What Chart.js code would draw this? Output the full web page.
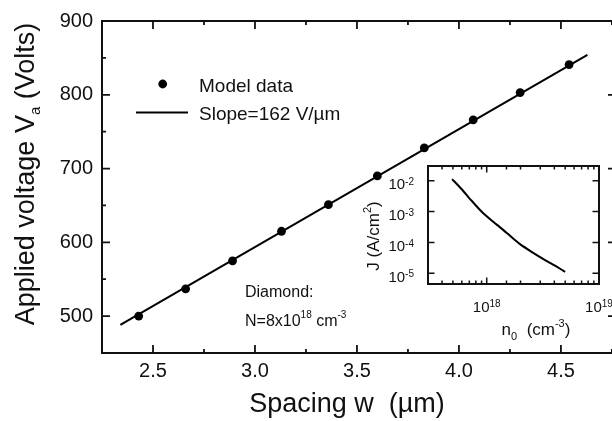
<!DOCTYPE html>
<html>
<head>
<meta charset="utf-8">
<script src="https://cdn.jsdelivr.net/npm/chart.js@4.4.0/dist/chart.umd.min.js"></script>
<style>
  html, body { margin: 0; padding: 0; background: #fff; overflow: hidden; }
  #wrap { position: relative; width: 612px; height: 421px; overflow: hidden; }
  #main { position: absolute; left: 0; top: 0; }
  #inset { position: absolute; left: 340px; top: 150px; }
</style>
</head>
<body>
<div id="wrap">
  <canvas id="main" width="630" height="421"></canvas>
  <canvas id="inset" width="290" height="205"></canvas>
</div>
<script>
// main plot: applied voltage vs spacing
const spacing = [2.43, 2.66, 2.89, 3.13, 3.36, 3.60, 3.83, 4.07, 4.30, 4.54];
const voltage = [500, 537, 575, 615, 651, 690, 728, 766, 803, 841];
const fitSpacing = [2.34, 4.63];
const fitVoltage = [488, 854];

const wTicks = [2.25, 2.5, 2.75, 3.0, 3.25, 3.5, 3.75, 4.0, 4.25, 4.5, 4.75];
const wLabels = [2.5, 3.0, 3.5, 4.0, 4.5];
const vTicks = [450, 500, 550, 600, 650, 700, 750, 800, 850, 900];
const vLabels = [500, 600, 700, 800, 900];

// inset: J vs n0 (log-log)
const density = [4.92e17, 5.96e17, 7.31e17, 8.99e17, 1.10e18, 1.36e18, 1.66e18, 1.98e18, 2.51e18, 3.31e18, 4.06e18, 4.99e18];
const current = [1.13e-2, 5.4e-3, 2.28e-3, 1.0e-3, 5.2e-4, 2.8e-4, 1.5e-4, 8.8e-5, 4.96e-5, 2.68e-5, 1.76e-5, 1.12e-5];

const FONT = "'Liberation Sans', Arial, Helvetica, sans-serif";
const INK = '#111';

// draw text made of pieces; s = 1 superscript, -1 subscript
function rich(ctx, parts, x, y, size, align, opt) {
  opt = opt || {};
  const small = opt.small || Math.round(size * 0.62);
  const raise = opt.raise != null ? opt.raise : size * 0.45;
  const drop = opt.drop != null ? opt.drop : size * 0.22;
  const widths = parts.map(([t, s]) => {
    ctx.font = (s ? small : size) + 'px ' + FONT;
    return ctx.measureText(t).width;
  });
  const total = widths.reduce((a, b) => a + b, 0);
  let cx = align === 'center' ? x - total / 2 : align === 'right' ? x - total : x;
  ctx.textAlign = 'left';
  ctx.textBaseline = 'alphabetic';
  ctx.fillStyle = INK;
  parts.forEach(([t, s], i) => {
    ctx.font = (s ? small : size) + 'px ' + FONT;
    const dy = s > 0 ? -raise : s < 0 ? drop : 0;
    ctx.fillText(t, cx, y + dy);
    cx += widths[i];
  });
}

const isPow10 = v => Math.abs(Math.log10(v) - Math.round(Math.log10(v))) < 1e-6;

// box around plot area with inward ticks on all sides
function makeFrame(cfg) {
  return {
    id: 'frame',
    beforeDraw(chart) {
      if (!cfg.fill) return;
      const a = chart.chartArea;
      chart.ctx.save();
      chart.ctx.fillStyle = '#fff';
      chart.ctx.fillRect(a.left, a.top, a.right - a.left, a.bottom - a.top);
      chart.ctx.restore();
    },
    afterDraw(chart) {
      const { ctx, chartArea: a } = chart;
      const xs = chart.scales.x, ys = chart.scales.y;
      ctx.save();
      ctx.strokeStyle = INK;
      ctx.beginPath();
      xs.ticks.forEach(t => {
        if (t.value < xs.min || t.value > xs.max) return;
        const p = xs.getPixelForValue(t.value);
        const len = cfg.xMajor(t.value) ? cfg.major : cfg.minor;
        ctx.moveTo(p, a.bottom); ctx.lineTo(p, a.bottom - len);
        ctx.moveTo(p, a.top); ctx.lineTo(p, a.top + len);
      });
      ys.ticks.forEach(t => {
        if (t.value < ys.min || t.value > ys.max) return;
        const major = cfg.yMajor(t.value);
        if (!major && !cfg.yMinor) return;
        const p = ys.getPixelForValue(t.value);
        const len = major ? cfg.major : cfg.minor;
        ctx.moveTo(a.left, p); ctx.lineTo(a.left + len, p);
        ctx.moveTo(a.right, p); ctx.lineTo(a.right - len, p);
      });
      ctx.lineWidth = cfg.tickWidth;
      ctx.stroke();
      ctx.lineWidth = cfg.width;
      ctx.strokeRect(a.left, a.top, a.right - a.left, a.bottom - a.top);
      ctx.restore();
    }
  };
}

const mainText = {
  id: 'mainText',
  afterDraw(chart) {
    const ctx = chart.ctx;
    ctx.save();
    // axis titles
    ctx.translate(34, 174);
    ctx.rotate(-Math.PI / 2);
    rich(ctx, [['Applied voltage V', 0], ['a', -1], [' (Volts)', 0]], 0, 0, 27, 'center', { small: 15, drop: 6 });
    ctx.setTransform(1, 0, 0, 1, 0, 0);
    rich(ctx, [['Spacing w  (\u00b5m)', 0]], 347, 412, 27, 'center');

    // legend
    ctx.fillStyle = '#000';
    ctx.beginPath();
    ctx.arc(162.7, 84, 4.4, 0, Math.PI * 2);
    ctx.fill();
    ctx.strokeStyle = '#000';
    ctx.lineWidth = 2;
    ctx.beginPath();
    ctx.moveTo(136, 112.5); ctx.lineTo(188, 112.5);
    ctx.stroke();
    rich(ctx, [['Model data', 0]], 199, 91.5, 19, 'left');
    rich(ctx, [['Slope=162 V/\u00b5m', 0]], 199, 119.5, 19, 'left');

    // material note
    rich(ctx, [['Diamond:', 0]], 245, 296.7, 16, 'left');
    rich(ctx, [['N=8x10', 0], ['18', 1], [' cm', 0], ['-3', 1]], 245, 326, 16, 'left', { small: 10, raise: 8 });
    ctx.restore();
  }
};

const insetText = {
  id: 'insetText',
  afterDraw(chart) {
    const ctx = chart.ctx;
    const xs = chart.scales.x, ys = chart.scales.y;
    ctx.save();
    ys.ticks.forEach(t => {
      if (!isPow10(t.value) || t.value < ys.min || t.value > ys.max) return;
      const p = ys.getPixelForValue(t.value);
      const e = String(Math.round(Math.log10(t.value)));
      rich(ctx, [['10', 0], [e, 1]], 74, p + 8.6, 15, 'right', { small: 10, raise: 4.5 });
    });
    xs.ticks.forEach(t => {
      if (!isPow10(t.value) || t.value < xs.min || t.value > xs.max * 1.001) return;
      const p = xs.getPixelForValue(t.value);
      const e = String(Math.round(Math.log10(t.value)));
      rich(ctx, [['10', 0], [e, 1]], p, 161.7, 15, 'center', { small: 10, raise: 5 });
    });
    ctx.translate(38.5, 86);
    ctx.rotate(-Math.PI / 2);
    rich(ctx, [['J (A/cm', 0], ['2', 1], [')', 0]], 0, 0, 17, 'center', { small: 11, raise: 8 });
    ctx.setTransform(1, 0, 0, 1, 0, 0);
    rich(ctx, [['n', 0], ['0', -1], ['  (cm', 0], ['-3', 1], [')', 0]], 196, 185, 17, 'center', { small: 11, raise: 8, drop: 5 });
    ctx.restore();
  }
};

new Chart(document.getElementById('main'), {
  type: 'scatter',
  data: {
    datasets: [
      {
        label: 'Slope=162 V/\u00b5m',
        data: fitSpacing.map((w, i) => ({ x: w, y: fitVoltage[i] })),
        showLine: true,
        borderColor: '#000',
        borderWidth: 2,
        pointRadius: 0,
        fill: false
      },
      {
        label: 'Model data',
        data: spacing.map((w, i) => ({ x: w, y: voltage[i] })),
        backgroundColor: '#000',
        borderColor: '#000',
        borderWidth: 0,
        pointRadius: 4.4
      }
    ]
  },
  options: {
    responsive: false,
    animation: false,
    layout: { padding: { top: 20, right: 14, left: 0, bottom: 0 } },
    plugins: { legend: { display: false }, tooltip: { enabled: false } },
    scales: {
      x: {
        type: 'linear',
        min: 2.25,
        max: 4.77,
        afterBuildTicks: s => { s.ticks = wTicks.map(v => ({ value: v })); },
        afterFit: s => { s.height = 68; },
        grid: { display: false, drawTicks: false },
        border: { display: false },
        ticks: {
          autoSkip: false,
          maxRotation: 0,
          padding: 6,
          color: INK,
          font: { family: FONT, size: 20 },
          callback: v => wLabels.includes(v) ? v.toFixed(1) : ''
        }
      },
      y: {
        type: 'linear',
        min: 450,
        max: 900,
        afterBuildTicks: s => { s.ticks = vTicks.map(v => ({ value: v })); },
        afterFit: s => { s.width = 102; },
        grid: { display: false, drawTicks: false },
        border: { display: false },
        ticks: {
          autoSkip: false,
          padding: 9,
          color: INK,
          font: { family: FONT, size: 20 },
          callback: v => vLabels.includes(v) ? String(v) : ''
        }
      }
    }
  },
  plugins: [
    makeFrame({
      width: 2, tickWidth: 1.8, major: 8, minor: 4, yMinor: true,
      xMajor: v => wLabels.includes(v),
      yMajor: v => vLabels.includes(v)
    }),
    mainText
  ]
});

new Chart(document.getElementById('inset'), {
  type: 'scatter',
  data: {
    datasets: [{
      label: 'J',
      data: density.map((n, i) => ({ x: n, y: current[i] })),
      showLine: true,
      borderColor: '#000',
      borderWidth: 2,
      pointRadius: 0,
      tension: 0.2,
      fill: false
    }]
  },
  options: {
    responsive: false,
    animation: false,
    layout: { padding: { top: 16, right: 31, left: 0, bottom: 0 } },
    plugins: { legend: { display: false }, tooltip: { enabled: false } },
    scales: {
      x: {
        type: 'logarithmic',
        min: 3e17,
        max: 1e19,
        afterFit: s => { s.height = 71; },
        grid: { display: false, drawTicks: false },
        border: { display: false },
        ticks: { display: false, autoSkip: false }
      },
      y: {
        type: 'logarithmic',
        min: 4.5e-6,
        max: 3e-2,
        afterFit: s => { s.width = 88; },
        grid: { display: false, drawTicks: false },
        border: { display: false },
        ticks: { display: false, autoSkip: false }
      }
    }
  },
  plugins: [
    makeFrame({
      fill: true, width: 2, tickWidth: 1.5, major: 6.5, minor: 3.5, yMinor: false,
      xMajor: isPow10,
      yMajor: isPow10
    }),
    insetText
  ]
});
</script>
</body>
</html>
